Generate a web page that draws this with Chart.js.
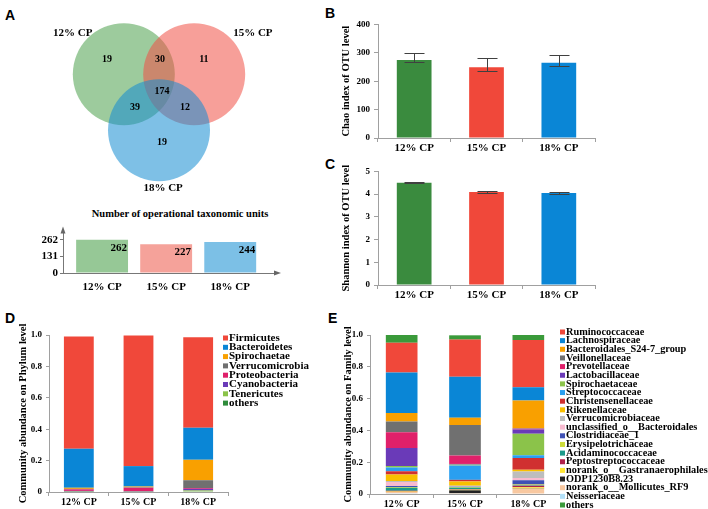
<!DOCTYPE html>
<html>
<head>
<meta charset="utf-8">
<script src="https://cdn.jsdelivr.net/npm/chart.js@4.4.1/dist/chart.umd.min.js"></script>
<style>
  body { margin: 0; background: #fff; }
  #wrap { position: relative; width: 708px; height: 509px; overflow: hidden; background: #fff; }
  #wrap canvas { position: absolute; }
  .tag { position: absolute; font: bold 14px "Liberation Sans", Arial, sans-serif; color: #000; line-height: 14px; }
  .otu-title { position: absolute; left: 0; width: 360px; top: 207px; text-align: center;
    font: bold 10.5px "Liberation Serif", "Times New Roman", serif; line-height: 13px; color: #000; }
</style>
</head>
<body>
<div id="wrap">
  <div class="tag" style="left:5px;top:8px">A</div>
  <div class="tag" style="left:325px;top:6px">B</div>
  <div class="tag" style="left:325px;top:157px">C</div>
  <div class="tag" style="left:5px;top:311px">D</div>
  <div class="tag" style="left:328px;top:311px">E</div>
  <div class="otu-title">Number of operational taxonomic units</div>
</div>
<script>
// ---- data ----
const groups = ['12% CP', '15% CP', '18% CP'];

// Venn: circle centres in units of one circle radius
const vennX = [-0.69, 0.69, 0];
const vennY = [0.37, 0.37, -0.73];
// 12 only, 15 only, 18 only, 12&15, 12&18, 15&18, all three
const vennCounts = [19, 11, 19, 30, 39, 12, 174];
const vennCountX = [-1.02, 0.88, 0.06, 0.02, -0.47, 0.51, 0.06];
const vennCountY = [0.65, 0.65, -0.96, 0.65, -0.29, -0.29, 0.04];
const vennLabelX = [-1.69, 1.84, 0.08];
const vennLabelY = [1.18, 1.18, -1.86];

const otuCounts = [262, 227, 244];
const otuTicks = [0, 131, 262];

const chaoMean = [275, 249, 265];
const chaoLow = [268, 236, 253];
const chaoHigh = [300, 280, 294];

const shannonMean = [4.50, 4.09, 4.05];
const shannonLow = [4.47, 4.06, 4.02];
const shannonHigh = [4.53, 4.13, 4.09];

const phyla = ['Firmicutes', 'Bacteroidetes', 'Spirochaetae', 'Verrucomicrobia',
  'Proteobacteria', 'Cyanobacteria', 'Tenericutes', 'others'];
const phylumData = [
  [0.715, 0.832, 0.575],
  [0.248, 0.130, 0.205],
  [0.007, 0.005, 0.130],
  [0.003, 0.003, 0.050],
  [0.010, 0.022, 0.005],
  [0.003, 0.002, 0.010],
  [0.002, 0.001, 0.006],
  [0.002, 0.002, 0.004]
];

const families = ['Ruminococcaceae', 'Lachnospiraceae', 'Bacteroidales_S24-7_group',
  'Veillonellaceae', 'Prevotellaceae', 'Lactobacillaceae', 'Spirochaetaceae',
  'Streptococcaceae', 'Christensenellaceae', 'Rikenellaceae', 'Verrucomicrobiaceae',
  'unclassified_o__Bacteroidales', 'Clostridiaceae_1', 'Erysipelotrichaceae',
  'Acidaminococcaceae', 'Peptostreptococcaceae', 'norank_o__Gastranaerophilales',
  'ODP1230B8.23', 'norank_o__Mollicutes_RF9', 'Neisseriaceae', 'others'];
const familyData = [
  [0.188, 0.234, 0.297],
  [0.255, 0.257, 0.084],
  [0.053, 0.046, 0.174],
  [0.067, 0.192, 0.004],
  [0.100, 0.053, 0.004],
  [0.113, 0.004, 0.027],
  [0.010, 0.006, 0.136],
  [0.023, 0.090, 0.017],
  [0.020, 0.010, 0.073],
  [0.042, 0.027, 0.011],
  [0.006, 0.003, 0.042],
  [0.025, 0.003, 0.014],
  [0.006, 0.002, 0.027],
  [0.004, 0.004, 0.004],
  [0.020, 0.010, 0.003],
  [0.004, 0.003, 0.010],
  [0.003, 0.004, 0.007],
  [0.001, 0.018, 0.002],
  [0.008, 0.003, 0.030],
  [0.004, 0.002, 0.003],
  [0.048, 0.027, 0.031]
];

// ---- styles ----
const vennColors = ['rgba(76,160,76,0.55)', 'rgba(240,80,70,0.55)', 'rgba(20,140,210,0.55)'];
const otuColors = ['#96c896', '#f5a29a', '#7cc0e6'];
const barColors = ['#3a8b3e', '#f0483a', '#0a86d6'];
const phylumColors = ['#f0483a', '#0a86d6', '#f9a000', '#707070', '#e0206a', '#6a3ab8', '#8bc34a', '#2e8b3a'];
const familyColors = ['#f0483a', '#0a86d6', '#f9a000', '#707070', '#e0206a', '#6a3ab8', '#8bc34a',
  '#2a9ff0', '#d03030', '#f9c000', '#bdbdbd', '#f8bbd0', '#3f51b5', '#cddc39', '#1a9a8a',
  '#b0204a', '#ffe633', '#222222', '#f8c8a0', '#b3e0f8', '#3a9a3a'];
const axisGray = '#a0a0a0';
const serif = '"Liberation Serif", "Times New Roman", serif';

Chart.defaults.font.family = serif;
Chart.defaults.font.weight = 'bold';
Chart.defaults.font.size = 11;
Chart.defaults.color = '#000';
Chart.defaults.animation = false;
Chart.defaults.responsive = false;
Chart.defaults.plugins.legend.display = false;
Chart.defaults.plugins.tooltip.enabled = false;

function addCanvas(left, top, w, h) {
  const c = document.createElement('canvas');
  c.width = w;
  c.height = h;
  c.style.left = left + 'px';
  c.style.top = top + 'px';
  c.style.width = w + 'px';
  c.style.height = h + 'px';
  document.getElementById('wrap').appendChild(c);
  return c;
}

// ---- plugins ----
const vennText = {
  id: 'vennText',
  afterDatasetsDraw(chart) {
    const { ctx, scales: { x, y } } = chart;
    ctx.save();
    ctx.fillStyle = '#000';
    ctx.textAlign = 'center';
    ctx.textBaseline = 'middle';
    ctx.font = 'bold 10px ' + serif;
    vennCounts.forEach((n, i) => {
      ctx.fillText(n, x.getPixelForValue(vennCountX[i]), y.getPixelForValue(vennCountY[i]));
    });
    ctx.font = 'bold 11px ' + serif;
    groups.forEach((g, i) => {
      ctx.fillText(g, x.getPixelForValue(vennLabelX[i]), y.getPixelForValue(vennLabelY[i]));
    });
    ctx.restore();
  }
};

const arrowAxes = {
  id: 'arrowAxes',
  afterDraw(chart) {
    const { ctx, chartArea: a } = chart;
    ctx.save();
    ctx.fillStyle = '#666';
    ctx.beginPath();
    ctx.moveTo(a.left, a.top - 4);
    ctx.lineTo(a.left - 2.5, a.top + 3);
    ctx.lineTo(a.left + 2.5, a.top + 3);
    ctx.closePath();
    ctx.fill();
    ctx.beginPath();
    ctx.moveTo(a.right + 4, a.bottom);
    ctx.lineTo(a.right - 3, a.bottom - 2.5);
    ctx.lineTo(a.right - 3, a.bottom + 2.5);
    ctx.closePath();
    ctx.fill();
    ctx.restore();
  }
};

const barValues = {
  id: 'barValues',
  afterDatasetsDraw(chart) {
    const { ctx } = chart;
    const meta = chart.getDatasetMeta(0);
    ctx.save();
    ctx.fillStyle = '#000';
    ctx.font = 'bold 11px ' + serif;
    ctx.textAlign = 'right';
    ctx.textBaseline = 'middle';
    meta.data.forEach((bar, i) => {
      ctx.fillText(chart.data.datasets[0].data[i].y, bar.x + bar.width / 2 - 1, bar.y + 8);
    });
    ctx.restore();
  }
};

const errorBars = {
  id: 'errorBars',
  afterDatasetsDraw(chart, args, opts) {
    const { ctx, scales: { y } } = chart;
    const meta = chart.getDatasetMeta(0);
    ctx.save();
    ctx.strokeStyle = '#404040';
    ctx.lineWidth = 1;
    meta.data.forEach((bar, i) => {
      const x = Math.round(bar.x) + 0.5;
      const yl = Math.round(y.getPixelForValue(opts.low[i])) + 0.5;
      const yh = Math.round(y.getPixelForValue(opts.high[i])) + 0.5;
      ctx.beginPath();
      ctx.moveTo(x, yl); ctx.lineTo(x, yh);
      ctx.moveTo(x - 10, yh); ctx.lineTo(x + 10, yh);
      ctx.moveTo(x - 10, yl); ctx.lineTo(x + 10, yl);
      ctx.stroke();
    });
    ctx.restore();
  }
};

const sideLegend = {
  id: 'sideLegend',
  afterDraw(chart, args, opts) {
    const { ctx } = chart;
    ctx.save();
    ctx.font = 'bold ' + opts.size + 'px ' + serif;
    ctx.textBaseline = 'middle';
    ctx.textAlign = 'left';
    opts.labels.forEach((t, i) => {
      const y = opts.y + i * opts.step;
      ctx.fillStyle = opts.colors[i];
      ctx.fillRect(opts.x, y - 2.5, 5, 5);
      ctx.fillStyle = '#000';
      ctx.fillText(t, opts.x + 6, y);
    });
    ctx.restore();
  }
};

// ---- A: Venn ----
const vennChart = new Chart(addCanvas(0, 0, 330, 200), {
  type: 'bubble',
  data: {
    datasets: [{
      data: vennX.map((x, i) => ({ x: x, y: vennY[i], r: 1 })),
      backgroundColor: vennColors,
      hoverBackgroundColor: vennColors,
      borderWidth: 0
    }]
  },
  options: {
    layout: { padding: 0, autoPadding: false },
    scales: {
      x: { display: false, min: -3.118, max: 3.353 },
      y: { display: false, min: -2.098, max: 1.824 }
    }
  },
  plugins: [vennText]
});
// one data unit on the scale = one circle radius
const vennUnit = vennChart.scales.x.getPixelForValue(1) - vennChart.scales.x.getPixelForValue(0);
vennChart.data.datasets[0].data = vennX.map((x, i) => ({ x: x, y: vennY[i], r: vennUnit }));
vennChart.update();

// ---- A: OTU counts ----
new Chart(addCanvas(20, 222, 263, 73), {
  type: 'bar',
  data: {
    datasets: [{
      data: otuCounts.map((v, i) => ({ x: i + 1, y: v })),
      backgroundColor: otuColors,
      categoryPercentage: 1,
      barPercentage: 0.81
    }]
  },
  options: {
    layout: { padding: { top: 5, right: 6, left: 0, bottom: 0 } },
    scales: {
      x: {
        type: 'linear', min: 0.39, max: 3.73, offset: false,
        afterBuildTicks: s => { s.ticks = groups.map((g, i) => ({ value: i + 1 })); },
        ticks: { callback: v => groups[v - 1], padding: 8, maxRotation: 0, autoSkip: false, font: { size: 11 } },
        grid: { display: false, drawTicks: false },
        border: { color: '#777' },
        afterFit: s => { s.height = 22; }
      },
      y: {
        min: 0, max: 335,
        afterBuildTicks: s => { s.ticks = otuTicks.map(v => ({ value: v })); },
        ticks: { padding: 2, font: { size: 11 } },
        grid: { drawOnChartArea: false, tickLength: 3, color: '#777' },
        border: { color: '#777' },
        afterFit: s => { s.width = 43; }
      }
    }
  },
  plugins: [arrowAxes, barValues]
});

// ---- B and C: alpha diversity ----
function diversityChart(top, mean, low, high, max, step, title) {
  return new Chart(addCanvas(330, top, 275, 140), {
    type: 'bar',
    data: {
      labels: groups,
      datasets: [{ data: mean, backgroundColor: barColors, categoryPercentage: 1, barPercentage: 0.48 }]
    },
    options: {
      layout: { padding: { top: 8, right: 10, left: 0, bottom: 0 } },
      plugins: { errorBars: { low: low, high: high } },
      scales: {
        x: {
          grid: { offset: true, drawOnChartArea: false, tickLength: 4, color: axisGray },
          border: { color: axisGray },
          ticks: { padding: 0, font: { size: 11 } },
          afterFit: s => { s.height = 17; }
        },
        y: {
          min: 0, max: max,
          ticks: { stepSize: step, padding: 4, font: { size: 9 } },
          grid: { drawOnChartArea: false, tickLength: 4, color: axisGray },
          border: { color: axisGray },
          title: { display: true, text: title, font: { size: 10.5 }, padding: { top: 10, bottom: 0 } },
          afterFit: s => { s.width = 48; }
        }
      }
    },
    plugins: [errorBars]
  });
}
diversityChart(15, chaoMean, chaoLow, chaoHigh, 400, 100, 'Chao index of OTU level');
diversityChart(162, shannonMean, shannonLow, shannonHigh, 5, 1, 'Shannon index of OTU level');

// ---- D and E: community composition ----
function stackedChart(left, width, yWidth, xHeight, padRight, titlePad, title, datasets, legend) {
  return new Chart(addCanvas(left, 305, width, 204), {
    type: 'bar',
    data: { labels: groups, datasets: datasets },
    options: {
      layout: { padding: { top: 30, right: padRight, left: 0, bottom: 0 } },
      plugins: { sideLegend: legend },
      datasets: { bar: { categoryPercentage: 1, barPercentage: 0.5 } },
      scales: {
        x: {
          stacked: true,
          grid: { offset: true, drawOnChartArea: false, tickLength: 4, color: axisGray },
          border: { color: axisGray },
          ticks: { padding: 0, font: { size: 10 } },
          afterFit: s => { s.height = xHeight; }
        },
        y: {
          stacked: true, min: 0, max: 1,
          ticks: { stepSize: 0.2, padding: 4, font: { size: 9 } },
          grid: { drawOnChartArea: false, tickLength: 3, color: axisGray },
          border: { color: axisGray },
          title: { display: true, text: title, font: { size: 10.5 }, padding: { top: titlePad, bottom: 0 } },
          afterFit: s => { s.width = yWidth; }
        }
      }
    },
    plugins: [sideLegend]
  });
}

const phylumSets = phyla.map((p, i) => ({
  label: p, data: phylumData[i], backgroundColor: phylumColors[i]
})).reverse();
stackedChart(0, 335, 49, 17, 107, 16.7, 'Community abundance on Phylum level', phylumSets,
  { labels: phyla, colors: phylumColors, x: 223, y: 33, step: 9.3, size: 11 });

const familySets = families.slice(0, 20).map((f, i) => ({
  label: f, data: familyData[i], backgroundColor: familyColors[i]
})).reverse().concat([{ label: 'others', data: familyData[20], backgroundColor: familyColors[20] }]);
stackedChart(330, 378, 40, 15, 148, 11.7, 'Community abundance on Family level', familySets,
  { labels: families, colors: familyColors, x: 230, y: 27, step: 8.65, size: 10.3 });
</script>
</body>
</html>
